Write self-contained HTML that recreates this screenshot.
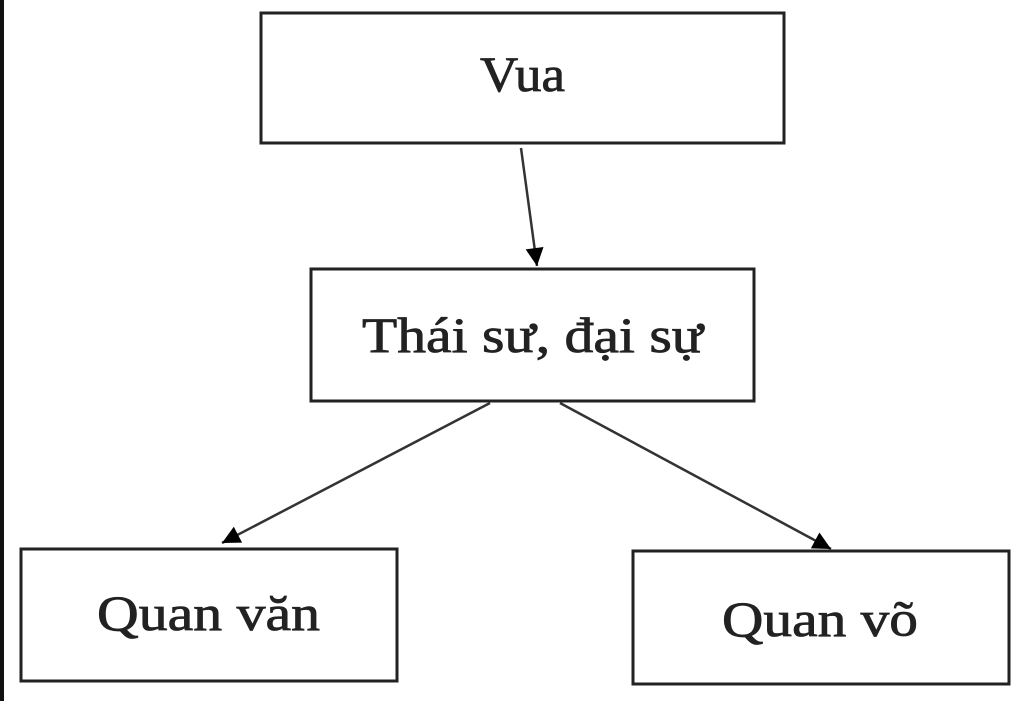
<!DOCTYPE html>
<html><head><meta charset="utf-8"><style>
html,body{margin:0;padding:0;background:#fff;}
</style></head><body>
<svg width="1024" height="701" viewBox="0 0 1024 701" xmlns="http://www.w3.org/2000/svg">
<defs>
<marker id="b" viewBox="0 0 10 10" markerWidth="24" markerHeight="18" refX="10" refY="5" orient="auto" markerUnits="userSpaceOnUse"><path d="M0,0 L10,5 L0,10 z" fill="#000"/></marker></defs>
<rect x="0" y="0" width="4" height="701" fill="#111"/>
<g fill="none" stroke="#222" stroke-width="3">
<rect x="261" y="13" width="523" height="130"/>
<rect x="311" y="269" width="443" height="132"/>
<rect x="21" y="549" width="376" height="132"/>
<rect x="633" y="551" width="376" height="133"/>
</g>
<g stroke="#333" stroke-width="2.5">
<line x1="521" y1="148" x2="537" y2="266" marker-end="url(#b)"/>
<line x1="490" y1="403" x2="222" y2="543" marker-end="url(#b)"/>
<line x1="560" y1="403" x2="831" y2="549" marker-end="url(#b)"/>
</g>
<g font-family="Liberation Serif, serif" font-size="50" fill="#222" stroke="#222" stroke-width="0.8" lengthAdjust="spacingAndGlyphs">
<text x="480" y="91" textLength="85" lengthAdjust="spacingAndGlyphs">Vua</text>
<text x="362" y="352" textLength="341" lengthAdjust="spacingAndGlyphs">Thái sư, đại sự</text>
<text x="97" y="630" textLength="223" lengthAdjust="spacingAndGlyphs">Quan văn</text>
<text x="722" y="636" textLength="196" lengthAdjust="spacingAndGlyphs">Quan võ</text>
</g>
</svg>
</body></html>
